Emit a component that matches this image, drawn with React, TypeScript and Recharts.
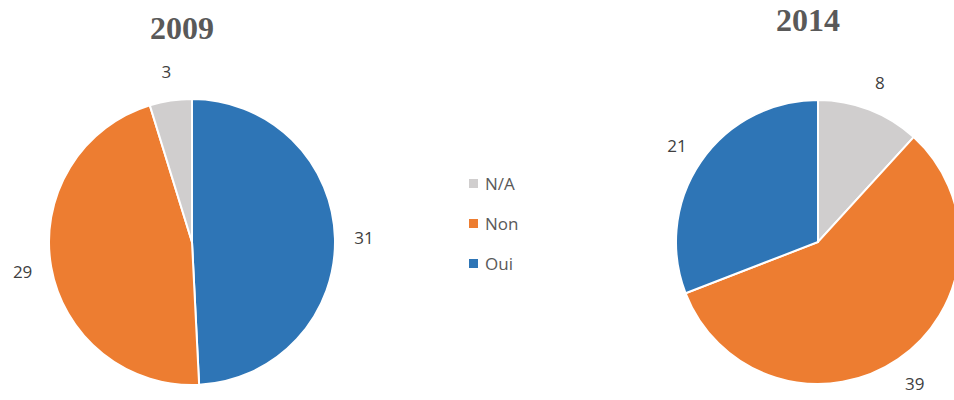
import React from 'react';
import { PieChart, Pie, Cell } from 'recharts';

const categories = ['N/A', 'Non', 'Oui'];
const colors: Record<string, string> = { 'N/A': '#d0cece', Non: '#ed7d31', Oui: '#2e75b6' };

// 2009: clockwise from 12 o'clock -> Oui, Non, N/A
const names2009 = ['Oui', 'Non', 'N/A'];
const values2009 = [31, 29, 3];
// 2014: clockwise from 12 o'clock -> N/A, Non, Oui
const names2014 = ['N/A', 'Non', 'Oui'];
const values2014 = [8, 39, 21];

const data2009 = names2009.map((name, i) => ({ name, value: values2009[i] }));
const data2014 = names2014.map((name, i) => ({ name, value: values2014[i] }));

const RAD = Math.PI / 180;

const renderLabel = (props: any) => {
    const { cx, cy, midAngle, outerRadius, value } = props;
    const r = outerRadius + 29;
    const x = cx + r * Math.cos(-midAngle * RAD);
    const y = cy + r * Math.sin(-midAngle * RAD);
    return (
        <text
            x={x}
            y={y}
            textAnchor="middle"
            dominantBaseline="central"
            fill="#404040"
            fontSize={17}
            fontFamily="'Open Sans', sans-serif"
        >
            {value}
        </text>
    );
};

const titleStyle: React.CSSProperties = {
    position: 'absolute',
    fontFamily: "'Liberation Serif', serif",
    fontWeight: 'bold',
    fontSize: 32,
    color: '#595959',
    lineHeight: '32px',
    transform: 'translateX(-50%)',
};

export default function App() {
    return (
        <div style={{ position: 'absolute', left: 0, top: 0, width: 954, height: 400, background: '#fff', overflow: 'hidden' }}>
            <PieChart width={954} height={400} margin={{ top: 0, right: 0, bottom: 0, left: 0 }}>
                <Pie
                    data={data2009}
                    dataKey="value"
                    cx={192}
                    cy={242}
                    outerRadius={143}
                    startAngle={90}
                    endAngle={-270}
                    stroke="#fff"
                    strokeWidth={2}
                    label={renderLabel}
                    labelLine={false}
                    isAnimationActive={false}
                >
                    {data2009.map((d) => (
                        <Cell key={d.name} fill={colors[d.name]} />
                    ))}
                </Pie>
                <Pie
                    data={data2014}
                    dataKey="value"
                    cx={818}
                    cy={242}
                    outerRadius={142}
                    startAngle={90}
                    endAngle={-270}
                    stroke="#fff"
                    strokeWidth={2}
                    label={renderLabel}
                    labelLine={false}
                    isAnimationActive={false}
                >
                    {data2014.map((d) => (
                        <Cell key={d.name} fill={colors[d.name]} />
                    ))}
                </Pie>
            </PieChart>
            <div style={{ ...titleStyle, left: 182, top: 12 }}>2009</div>
            <div style={{ ...titleStyle, left: 808, top: 4 }}>2014</div>
            <div style={{ position: 'absolute', left: 469, top: 163 }}>
                {categories.map((c) => (
                    <div key={c} style={{ display: 'flex', alignItems: 'center', height: 40, fontFamily: "'Open Sans', sans-serif", fontSize: 17, color: '#595959' }}>
                        <span style={{ width: 9, height: 9, background: colors[c], marginRight: 7, display: 'inline-block' }} />
                        <span>{c}</span>
                    </div>
                ))}
            </div>
        </div>
    );
}
